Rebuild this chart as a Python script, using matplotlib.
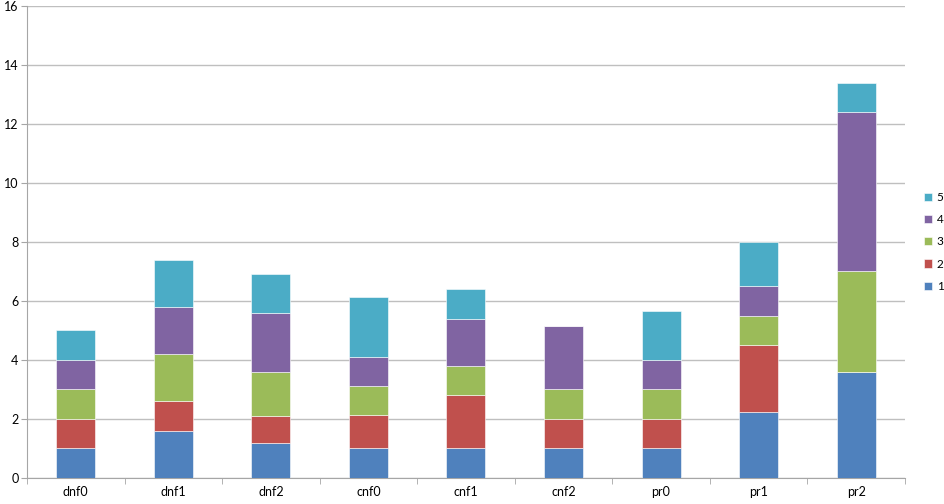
import numpy as np
import matplotlib.pyplot as plt
from matplotlib.ticker import FixedLocator

plt.rcParams['font.family'] = ['Lato', 'DejaVu Sans']

# Data
categories = ['dnf0', 'dnf1', 'dnf2', 'cnf0', 'cnf1', 'cnf2', 'pr0', 'pr1', 'pr2']
s1 = [1.0, 1.6, 1.2, 1.0, 1.0, 1.0, 1.0, 2.25, 3.6]
s2 = [1.0, 1.0, 0.9, 1.12, 1.8, 1.0, 1.0, 2.25, 0.0]
s3 = [1.0, 1.6, 1.5, 1.0, 1.0, 1.0, 1.0, 1.0, 3.4]
s4 = [1.0, 1.6, 2.0, 0.98, 1.6, 2.15, 1.0, 1.0, 5.4]
s5 = [1.0, 1.6, 1.3, 2.03, 1.0, 0.0, 1.67, 1.5, 1.0]
series = [s1, s2, s3, s4, s5]
names = ['1', '2', '3', '4', '5']
colors = ['#4F81BD', '#C0504D', '#9BBB59', '#8064A2', '#4BACC6']

fig = plt.figure(figsize=(9.44, 5.04), dpi=100)
ax = fig.add_axes([0.0286, 0.0516, 0.93, 0.9365])

x = np.arange(len(categories))
bottom = np.zeros(len(categories))
for vals, name, col in zip(series, names, colors):
    ax.bar(x, vals, width=0.4, bottom=bottom, color=col, label=name,
           edgecolor='white', linewidth=0.4, zorder=3)
    bottom += np.array(vals)

ax.set_xlim(-0.5, len(categories) - 0.5)
ax.set_ylim(0, 16)
ax.set_yticks(range(0, 17, 2))
ax.set_xticks(x)
ax.set_xticklabels(categories)
ax.xaxis.set_minor_locator(FixedLocator(np.arange(-0.5, len(categories), 1)))
ax.tick_params(axis='x', which='major', length=0, pad=6, labelsize=9)
ax.tick_params(axis='x', which='minor', length=4, color='#A6A6A6', direction='out')
ax.tick_params(axis='y', length=4, color='#A6A6A6', labelsize=9, pad=2)

ax.grid(axis='y', color='#BFBFBF', linewidth=1, zorder=0)
for sp in ['top', 'right']:
    ax.spines[sp].set_visible(False)
for sp in ['left', 'bottom']:
    ax.spines[sp].set_color('#A6A6A6')

h, l = ax.get_legend_handles_labels()
ax.legend(h[::-1], l[::-1], loc='center left', bbox_to_anchor=(1.022, 0.5),
          frameon=False, fontsize=8.5, handlelength=0.7, handleheight=0.7,
          handletextpad=0.35, labelspacing=0.95, borderpad=0, borderaxespad=0)

fig.savefig('out.png', dpi=100)
